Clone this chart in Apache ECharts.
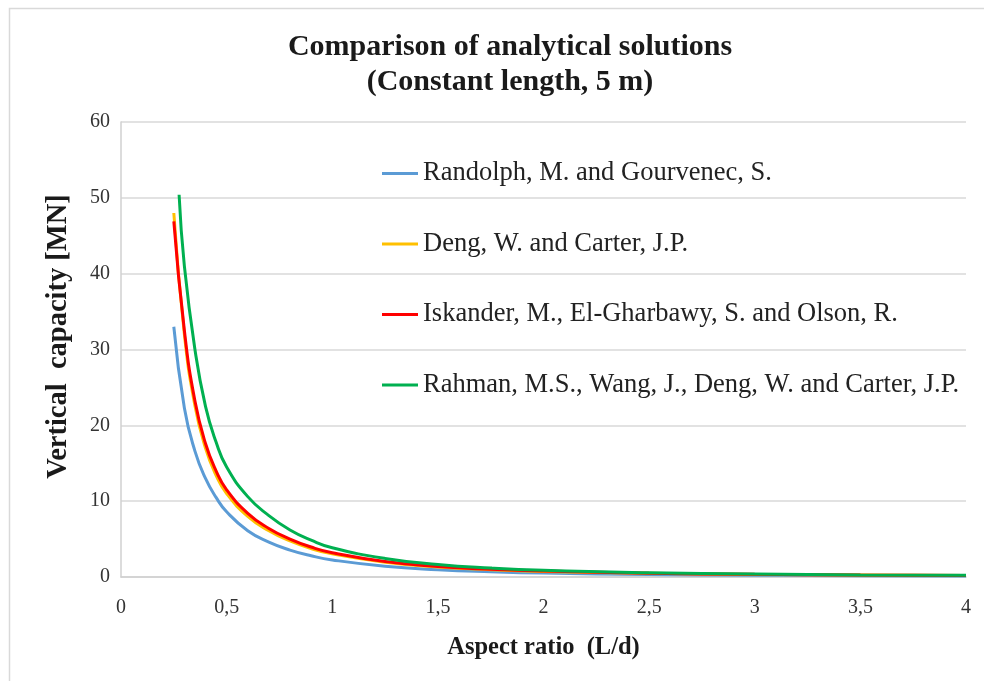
<!DOCTYPE html>
<html>
<head>
<meta charset="utf-8">
<script src="https://cdn.jsdelivr.net/npm/echarts@6/dist/echarts.min.js"></script>
<style>
html,body{margin:0;padding:0;background:#fff;}
#chart{width:984px;height:681px;}
</style>
</head>
<body>
<div id="chart"></div>
<script>
// Aspect ratio values (L/d)
var xCommon = [0.25, 0.3, 0.35, 0.4, 0.45, 0.5, 0.6, 0.7, 0.8, 0.9, 1.0, 1.25, 1.5, 1.75, 2.0, 2.5, 3.0, 3.5, 4.0];
var xRahman = [0.275, 0.3, 0.35, 0.4, 0.45, 0.5, 0.6, 0.7, 0.8, 0.9, 1.0, 1.25, 1.5, 1.75, 2.0, 2.5, 3.0, 3.5, 4.0];

// Vertical capacity [MN]
var randolph = [33.0, 22.3, 16.6, 13.0, 10.5, 8.6, 6.1, 4.6, 3.55, 2.8, 2.25, 1.42, 0.97, 0.7, 0.52, 0.33, 0.23, 0.17, 0.13];
var deng     = [48.0, 32.0, 22.6, 17.0, 13.4, 11.0, 8.0, 6.1, 4.75, 3.75, 3.05, 1.95, 1.33, 0.97, 0.74, 0.48, 0.33, 0.25, 0.19];
var iskander = [46.9, 32.5, 23.2, 17.6, 14.0, 11.5, 8.4, 6.4, 5.0, 3.95, 3.2, 2.05, 1.4, 1.02, 0.78, 0.5, 0.35, 0.26, 0.2];
var rahman   = [50.4, 41.0, 30.0, 22.5, 17.8, 14.5, 10.6, 8.1, 6.2, 4.85, 3.85, 2.45, 1.65, 1.18, 0.88, 0.56, 0.38, 0.28, 0.22];

var seriesNames = [
  'Randolph, M. and Gourvenec, S.',
  'Deng, W. and Carter, J.P.',
  'Iskander, M., El-Gharbawy, S. and Olson, R.',
  'Rahman, M.S., Wang, J., Deng, W. and Carter, J.P.'
];
var titleLines = ['Comparison of analytical solutions', '(Constant length, 5 m)'];
var xName = 'Aspect ratio  (L/d)';
var yName = 'Vertical  capacity [MN]';

function pairs(xs, ys){ return xs.map(function(x,i){ return [x, ys[i]]; }); }

var colors = ['#5B9BD5', '#FFC000', '#FF0000', '#00B050'];
var dataSets = [pairs(xCommon, randolph), pairs(xCommon, deng), pairs(xCommon, iskander), pairs(xRahman, rahman)];

var font = '"Liberation Serif", "Times New Roman", serif';

var chart = echarts.init(document.getElementById('chart'), null, {renderer:'canvas'});
chart.setOption({
  backgroundColor: '#ffffff',
  animation: false,
  graphic: [{
    type: 'rect', left: 7, top: 6, z: -1,
    shape: {width: 1000, height: 700},
    style: {fill: 'none', stroke: '#d9d9d9', lineWidth: 1.5}
  }],
  title: {
    text: titleLines.join('\n'),
    left: 505, top: 25, textAlign: 'center',
    textStyle: {fontFamily: font, fontWeight: 'bold', fontSize: 30, color: '#1a1a1a', lineHeight: 35}
  },
  legend: {
    orient: 'vertical',
    left: 382, top: 160, padding: 0,
    itemWidth: 36, itemHeight: 26, itemGap: 43.5,
    data: seriesNames,
    textStyle: {fontFamily: font, fontSize: 26.5, color: '#222'},
    icon: 'path://M0,0 L36,0 L36,3 L0,3 Z'
  },
  grid: {left: 121, right: 18, top: 122, bottom: 104, containLabel: false},
  xAxis: {
    type: 'value', min: 0, max: 4, interval: 0.5,
    name: xName, nameLocation: 'middle', nameGap: 58,
    nameTextStyle: {fontFamily: font, fontWeight: 'bold', fontSize: 24.5, color: '#1a1a1a'},
    axisLine: {show: true, lineStyle: {color: '#d0d0d0', width: 1.5}},
    axisTick: {show: false},
    splitLine: {show: false},
    axisLabel: {
      fontFamily: font, fontSize: 20, color: '#333', margin: 21,
      formatter: function(v){ return String(v).replace('.', ','); }
    }
  },
  yAxis: {
    type: 'value', min: 0, max: 60, interval: 10,
    name: yName, nameLocation: 'middle', nameGap: 48,
    nameTextStyle: {fontFamily: font, fontWeight: 'bold', fontSize: 28.5, color: '#1a1a1a', padding: [0, 0, 0, 26]},
    axisLine: {show: true, lineStyle: {color: '#d0d0d0', width: 1.5}},
    axisTick: {show: false},
    splitLine: {show: true, lineStyle: {color: '#d9d9d9', width: 1.5}},
    axisLabel: {fontFamily: font, fontSize: 20, color: '#333', margin: 11}
  },
  series: seriesNames.map(function(n, i){
    return {
      name: n, type: 'line', data: dataSets[i],
      smooth: 0.5, symbol: 'none', showSymbol: false,
      lineStyle: {color: colors[i], width: 3},
      itemStyle: {color: colors[i]}
    };
  })
});
</script>
</body>
</html>
